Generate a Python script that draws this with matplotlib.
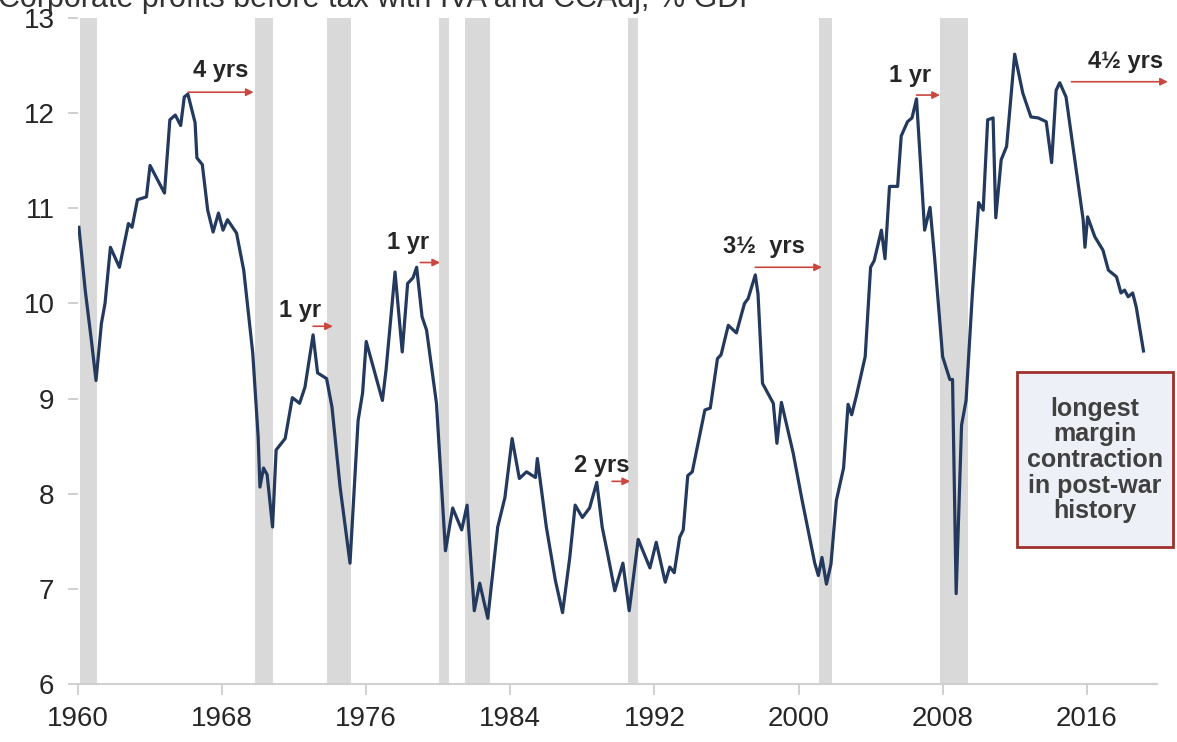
import matplotlib.pyplot as plt
from matplotlib.patches import Rectangle

# corporate profits before tax (IVA, CCAdj) as % of GDP
years = [1960.05, 1960.4, 1960.75, 1961.0, 1961.3, 1961.5, 1961.8, 1962.3, 1962.8, 1963.0,
         1963.3, 1963.8, 1964.0, 1964.8, 1965.1, 1965.4, 1965.7, 1965.9, 1966.1, 1966.5,
         1966.6, 1966.9, 1967.2, 1967.5, 1967.8, 1968.05, 1968.3, 1968.8, 1969.2, 1969.7,
         1970.0, 1970.1, 1970.3, 1970.5, 1970.8, 1971.0, 1971.5, 1971.9, 1972.3, 1972.6,
         1973.05, 1973.3, 1973.8, 1974.1, 1974.55, 1975.1, 1975.55, 1975.8, 1976.0, 1976.9,
         1977.1, 1977.6, 1978.0, 1978.3, 1978.6, 1978.8, 1979.1, 1979.35, 1979.9, 1980.4,
         1980.8, 1981.3, 1981.6, 1982.0, 1982.3, 1982.75, 1983.3, 1983.7, 1984.1, 1984.5,
         1984.9, 1985.4, 1985.5, 1986.0, 1986.5, 1986.9, 1987.3, 1987.6, 1988.0, 1988.4,
         1988.8, 1989.1, 1989.4, 1989.8, 1990.25, 1990.6, 1991.1, 1991.75, 1992.1, 1992.6,
         1992.85, 1993.1, 1993.4, 1993.6, 1993.85, 1994.1, 1994.8, 1995.1, 1995.5, 1995.7,
         1996.1, 1996.55, 1997.0, 1997.2, 1997.6, 1997.75, 1998.0, 1998.6, 1998.8, 1999.05,
         1999.7, 2000.2, 2000.9, 2001.1, 2001.3, 2001.55, 2001.8, 2002.1, 2002.5, 2002.75,
         2002.95, 2003.2, 2003.7, 2004.0, 2004.2, 2004.6, 2004.8, 2005.05, 2005.5, 2005.7,
         2006.05, 2006.3, 2006.55, 2007.0, 2007.3, 2007.55, 2008.0, 2008.4, 2008.55, 2008.75,
         2009.05, 2009.3, 2009.65, 2010.0, 2010.25, 2010.5, 2010.8, 2010.95, 2011.25, 2011.55,
         2012.0, 2012.45, 2012.9, 2013.3, 2013.75, 2014.05, 2014.3, 2014.5, 2014.85, 2015.8,
         2015.9, 2016.05, 2016.45, 2016.9, 2017.2, 2017.65, 2017.9, 2018.1, 2018.3, 2018.55,
         2018.75, 2019.15]
margin = [10.8, 10.14, 9.6, 9.19, 9.79, 10.0, 10.59, 10.38, 10.84, 10.8,
          11.09, 11.12, 11.45, 11.16, 11.93, 11.98, 11.87, 12.17, 12.2, 11.9,
          11.53, 11.46, 10.98, 10.75, 10.95, 10.77, 10.88, 10.74, 10.35, 9.48,
          8.6, 8.07, 8.27, 8.2, 7.65, 8.46, 8.58, 9.01, 8.95, 9.12,
          9.67, 9.27, 9.21, 8.91, 8.07, 7.27, 8.77, 9.06, 9.6, 8.98,
          9.3, 10.33, 9.49, 10.21, 10.27, 10.38, 9.86, 9.72, 8.95, 7.4,
          7.85, 7.62, 7.88, 6.77, 7.06, 6.69, 7.65, 7.96, 8.58, 8.16,
          8.23, 8.17, 8.37, 7.65, 7.09, 6.75, 7.33, 7.88, 7.75, 7.85,
          8.12, 7.65, 7.37, 6.98, 7.27, 6.77, 7.52, 7.22, 7.49, 7.07,
          7.23, 7.17, 7.54, 7.62, 8.19, 8.23, 8.88, 8.9, 9.42, 9.46,
          9.77, 9.69, 10.0, 10.05, 10.3, 10.1, 9.16, 8.95, 8.53, 8.96,
          8.43, 7.93, 7.27, 7.14, 7.33, 7.05, 7.26, 7.93, 8.27, 8.94,
          8.83, 9.02, 9.44, 10.38, 10.45, 10.77, 10.47, 11.23, 11.23, 11.76,
          11.91, 11.95, 12.15, 10.77, 11.01, 10.49, 9.44, 9.2, 9.2, 6.95,
          8.72, 8.98, 10.1, 11.06, 10.98, 11.93, 11.95, 10.9, 11.51, 11.65,
          12.62, 12.21, 11.96, 11.95, 11.91, 11.48, 12.24, 12.32, 12.17, 10.88,
          10.59, 10.91, 10.7, 10.56, 10.35, 10.28, 10.11, 10.14, 10.07, 10.11,
          9.96, 9.5]

# recessions (shaded)
rec_start = [1960.1, 1969.8, 1973.85, 1980.05, 1981.5, 1990.55, 2001.15, 2007.85]
rec_end = [1961.05, 1970.85, 1975.15, 1980.6, 1982.85, 1991.1, 2001.85, 2009.4]

# "time from peak to recession" labels
ann_text = ["4 yrs", "1 yr", "1 yr", "2 yrs", "3\u00bd  yrs", "1 yr", "4\u00bd yrs"]
ann_tx = [1967.9, 1972.3, 1978.3, 1989.1, 1998.1, 2006.2, 2018.15]
ann_ty = [12.45, 9.93, 10.64, 8.3, 10.6, 12.4, 12.54]
arr_from = [1966.1, 1973.05, 1979.0, 1989.65, 1997.6, 2006.55, 2015.15]
arr_to = [1969.75, 1974.15, 1980.1, 1990.65, 2001.3, 2007.85, 2020.5]
arr_y = [12.22, 9.76, 10.43, 8.13, 10.38, 12.19, 12.33]

plt.rcParams["font.family"] = ["Liberation Sans", "DejaVu Sans"]

W, H = 1177, 742
fig = plt.figure(figsize=(W / 100, H / 100), dpi=100)
ax = fig.add_axes([78 / W, (H - 684) / H, (1157 - 78) / W, (684 - 18) / H])

for s, e in zip(rec_start, rec_end):
    ax.axvspan(s, e, color="#d9d9d9", lw=0, zorder=0)

ax.plot(years, margin, color="#23395d", lw=2.3, zorder=3)

for t, tx, ty, a0, a1, ay in zip(ann_text, ann_tx, ann_ty, arr_from, arr_to, arr_y):
    ax.text(tx, ty, t, ha="center", va="center", fontsize=17, fontweight="bold",
            color="#262626", zorder=4)
    ax.annotate("", xy=(a1, ay), xytext=(a0, ay), annotation_clip=False,
                arrowprops=dict(arrowstyle="-|>", color="#c9473f", lw=1.2,
                                mutation_scale=11, shrinkA=0, shrinkB=0))

ax.set_xlim(1960, 2019.9)
ax.set_ylim(6, 13)
ax.set_xticks(range(1960, 2017, 8))
ax.set_yticks(range(6, 14))
ax.tick_params(axis="both", labelsize=20, colors="#c8c8c8", labelcolor="#262626")
ax.tick_params(axis="x", length=8, width=1.2, pad=8)
ax.tick_params(axis="y", length=7, width=1.2, pad=10)
for side in ["left", "top", "right"]:
    ax.spines[side].set_visible(False)
ax.spines["bottom"].set_color("#d0d0d0")
ax.spines["bottom"].set_linewidth(1.5)

# note box on the right
fig.patches.append(Rectangle((1017 / W, (H - 547) / H), 156 / W, 175 / H,
                             transform=fig.transFigure, facecolor="#eef0f7",
                             edgecolor="#a0302c", lw=2))
fig.text(1095 / W, (H - 460) / H, "longest\nmargin\ncontraction\nin post-war\nhistory",
         ha="center", va="center", fontsize=18, fontweight="bold", color="#404040",
         linespacing=1.08)

# title, mostly cut off at the top edge
fig.text(-2 / W, (H - 7) / H, "Corporate profits before tax with IVA and CCAdj, % GDP",
         ha="left", va="baseline", fontsize=22, color="#333333")

fig.savefig("out.png", dpi=100)
